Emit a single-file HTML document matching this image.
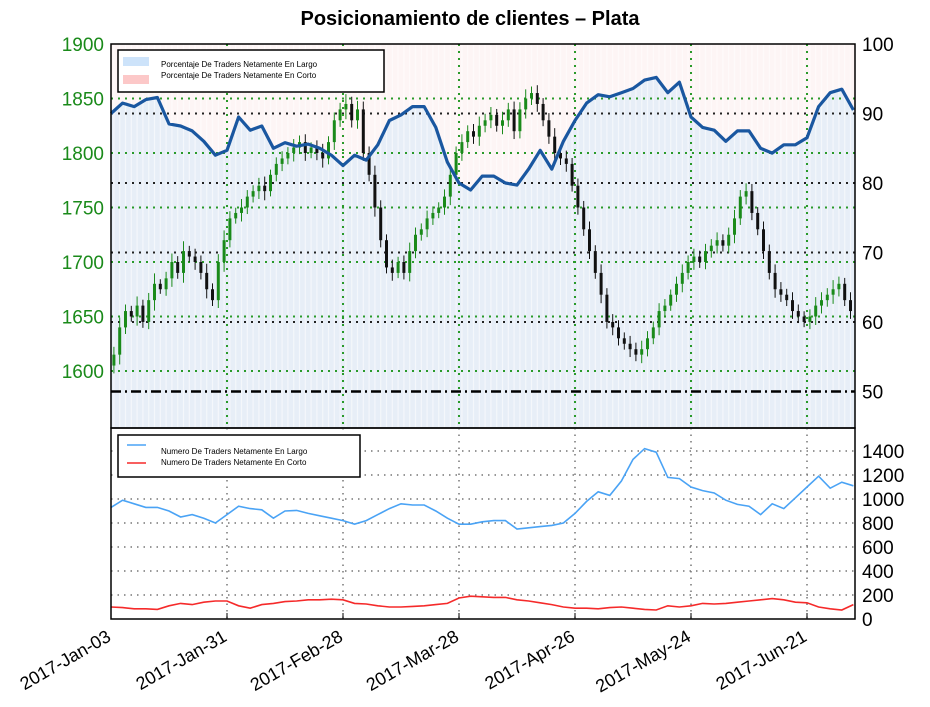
<!DOCTYPE html>
<html><head><meta charset="utf-8">
<style>
html,body{margin:0;padding:0;background:#fff;}
svg{display:block;font-family:"Liberation Sans",sans-serif;}
</style></head>
<body>
<svg id="chart" width="930" height="707" viewBox="0 0 930 707" xmlns="http://www.w3.org/2000/svg">
<text x="470" y="25" text-anchor="middle" font-size="20" font-weight="bold">Posicionamiento de clientes – Plata</text>
<g id="topPanel"></g>
<g id="botPanel"></g>
</svg>
<script>
const closes=[1615,1640,1655,1650,1660,1645,1665,1680,1675,1685,1700,1690,1710,1705,1700,1690,1675,1665,1700,1720,1740,1745,1750,1760,1765,1770,1765,1780,1790,1795,1800,1805,1810,1800,1805,1800,1795,1810,1830,1840,1845,1830,1840,1800,1780,1750,1720,1695,1690,1700,1690,1710,1725,1730,1740,1745,1750,1760,1780,1800,1810,1820,1815,1825,1830,1835,1825,1830,1840,1820,1840,1850,1855,1845,1830,1815,1800,1795,1790,1770,1750,1730,1710,1690,1670,1645,1640,1630,1625,1620,1615,1620,1630,1640,1655,1660,1670,1680,1690,1700,1705,1700,1710,1715,1720,1715,1725,1740,1760,1765,1745,1730,1710,1690,1675,1670,1665,1655,1650,1645,1650,1660,1665,1670,1675,1680,1665,1655];
const wickRange=[12,15,10,8,14,9,11,16,7,10,13,9,15,8,12,10,14,9,12,15,11,8,13,10,9,12,14,8,10,11,9,13,10,12,8,11,14,9,12,10,15,11,13,12,10,14,11,9,12,8,10,13,11,9,12,10,8,11,13,10,12,9,11,14,10,12,9,13,10,12,11,14,10,12,9,11,13,10,12,9,11,10,12,9,13,10,12,11,9,12,10,13,11,9,12,10,8,11,13,10,12,9,11,10,12,9,11,13,10,12,11,9,12,10,13,11,9,12,10,8,11,13,12,10,14,11,9,12];
const sentiment=[90,91.5,91,92,92.3,88.5,88.2,87.5,86,84,84.7,89.5,87.6,88.2,85,85.8,85.3,85.6,85,84,82.5,84,83.3,85.5,89,89.8,91,91,88,83,80,79,81,81,80,79.7,82,84.7,82,86,89,91.5,92.7,92.4,93,93.6,94.8,95.2,93,94.5,89.5,88,87.6,86,87.5,87.5,85,84.3,85.5,85.5,86.5,91,93,93.5,90.5];
const longCount=[930,990,960,930,930,900,850,870,840,800,870,940,920,910,840,900,905,880,860,840,820,790,820,870,920,960,950,950,900,840,790,790,810,820,820,750,760,770,780,800,880,980,1060,1030,1150,1330,1420,1390,1180,1170,1100,1070,1050,990,955,940,870,960,920,1010,1100,1190,1090,1140,1110];
const shortCount=[100,95,85,85,80,110,130,120,140,150,150,110,90,120,130,145,150,160,160,165,160,130,125,110,100,100,105,110,120,130,175,190,185,180,180,160,150,135,120,100,90,90,85,95,100,90,80,75,110,100,110,130,125,130,140,150,160,170,160,140,135,100,85,75,120];
const dateLabels=["2017-Jan-03","2017-Jan-31","2017-Feb-28","2017-Mar-28","2017-Apr-26","2017-May-24","2017-Jun-21"];
const dateIdx=[0,20,40,60,80,100,120];
const leftTicks=[1600,1650,1700,1750,1800,1850,1900];
const rightTicks=[50,60,70,80,90,100];
const countTicks=[0,200,400,600,800,1000,1200,1400];

const NS="http://www.w3.org/2000/svg";
const X0=111,X1=855,T0=44,T1=428,B0=428,B1=619;
const xb=i=>X0+i*5.8;
const yP=v=>44+(1900-v)/50*54.5;
const yS=p=>44+(100-p)*6.95;
const yC=v=>619-v/200*24;
function mk(parent,tag,attrs){const e=document.createElementNS(NS,tag);for(const k in attrs)e.setAttribute(k,attrs[k]);parent.appendChild(e);return e;}
const topG=document.getElementById('topPanel'),botG=document.getElementById('botPanel');

let r=mk(topG,'rect',{x:X0,y:T0,width:X1-X0,height:T1-T0,fill:'#fdf5f5'});


let pts=sentiment.map((p,j)=>[xb(2*j),yS(p)]);
let fillD='M'+X0+','+T1+' '+pts.map(p=>'L'+p[0].toFixed(1)+','+p[1].toFixed(1)).join(' ')+' L'+X1+','+pts[pts.length-1][1].toFixed(1)+' L'+X1+','+T1+'Z';
let fa=mk(topG,'path',{d:fillD,fill:'#e7eef7'});


let sd='';for(let i=0;i<128;i++){const x=xb(i)+2.9;sd+='M'+x.toFixed(1)+','+T0+'V'+T1;}
let st=mk(topG,'path',{d:sd,stroke:'#ffffff','stroke-width':1.2,opacity:0.55});



leftTicks.forEach(v=>{if(v>=1900)return;const y=yP(v);let g=mk(topG,'line',{x1:X0,x2:X1,y1:y,y2:y,stroke:'#2a9a2a','stroke-width':2,'stroke-dasharray':'2 5'});

});
rightTicks.forEach(v=>{if(v>=100||v<=50)return;const y=yS(v);let g=mk(topG,'line',{x1:X0,x2:X1,y1:y,y2:y,stroke:'#222','stroke-width':2,'stroke-dasharray':'2 5'});

});
dateIdx.forEach(i=>{const x=xb(i);if(i===0)return;let g=mk(topG,'line',{x1:x,x2:x,y1:T0,y2:T1,stroke:'#2a9a2a','stroke-width':2,'stroke-dasharray':'2 5'});

});
let fifty=mk(topG,'line',{x1:X0,x2:X1,y1:yS(50),y2:yS(50),stroke:'#000','stroke-width':2.5,'stroke-dasharray':'10 4 2 4'});



closes.forEach((c,i)=>{const o=i?closes[i-1]:c-10;const up=c>=o;const col=up?'#1a8a1a':'#111';const x=xb(i)+2.9;
const hi=Math.max(o,c)+wickRange[i]*0.6,lo=Math.min(o,c)-wickRange[i]*0.6;
let w=mk(topG,'line',{x1:x,x2:x,y1:yP(hi),y2:yP(lo),stroke:col,'stroke-width':1});


let b=mk(topG,'rect',{x:x-1.5,y:yP(Math.max(o,c)),width:3,height:Math.max(1,Math.abs(yP(o)-yP(c))),fill:col});

});

let sl=mk(topG,'polyline',{points:pts.map(p=>p[0].toFixed(1)+','+p[1].toFixed(1)).join(' '),fill:'none',stroke:'#1a57a0','stroke-width':3.2,'stroke-linejoin':'round'});


let tf=mk(topG,'rect',{x:X0,y:T0,width:X1-X0,height:T1-T0,fill:'none',stroke:'#000','stroke-width':1.5});



leftTicks.forEach(v=>{let t=mk(topG,'text',{x:104,y:yP(v)+7,'text-anchor':'end','font-size':19,fill:'#1a8a1a'});t.textContent=v;

});
rightTicks.forEach(v=>{let t=mk(topG,'text',{x:862,y:yS(v)+7,'font-size':19,fill:'#000'});t.textContent=v;

});

let lg=mk(topG,'g',{});


mk(lg,'rect',{x:118,y:50,width:266,height:42,fill:'#fff',stroke:'#000','stroke-width':1.5});
mk(lg,'rect',{x:123,y:57,width:26,height:9,fill:'#cde3fa'});
mk(lg,'rect',{x:123,y:75,width:26,height:9,fill:'#fcc8c8'});
let t1=mk(lg,'text',{x:161,y:67,'font-size':8});t1.textContent='Porcentaje De Traders Netamente En Largo';
let t2=mk(lg,'text',{x:161,y:78,'font-size':8});t2.textContent='Porcentaje De Traders Netamente En Corto';

countTicks.forEach(v=>{if(v===0)return;const y=yC(v);let g=mk(botG,'line',{x1:X0,x2:X1,y1:y,y2:y,stroke:'#777','stroke-width':1.5,'stroke-dasharray':'1.5 5'});

});
dateIdx.forEach(i=>{if(i===0)return;const x=xb(i);let g=mk(botG,'line',{x1:x,x2:x,y1:B0,y2:B1,stroke:'#777','stroke-width':1.5,'stroke-dasharray':'1.5 5'});

});
let lp=mk(botG,'polyline',{points:longCount.map((v,j)=>xb(2*j).toFixed(1)+','+yC(v).toFixed(1)).join(' '),fill:'none',stroke:'#4aa3f5','stroke-width':1.6});


let sp=mk(botG,'polyline',{points:shortCount.map((v,j)=>xb(2*j).toFixed(1)+','+yC(v).toFixed(1)).join(' '),fill:'none',stroke:'#f52a2a','stroke-width':1.6});


let bf=mk(botG,'rect',{x:X0,y:B0,width:X1-X0,height:B1-B0,fill:'none',stroke:'#000','stroke-width':1.5});


countTicks.forEach(v=>{let t=mk(botG,'text',{x:862,y:yC(v)+7,'font-size':19});t.textContent=v;

});
let lg2=mk(botG,'g',{});


mk(lg2,'rect',{x:118,y:435,width:242,height:42,fill:'#fff',stroke:'#000','stroke-width':1.5});
mk(lg2,'line',{x1:127,x2:146,y1:445,y2:445,stroke:'#4aa3f5','stroke-width':1.6});
mk(lg2,'line',{x1:127,x2:146,y1:463,y2:463,stroke:'#f52a2a','stroke-width':1.6});
let t3=mk(lg2,'text',{x:161,y:454,'font-size':8});t3.textContent='Numero De Traders Netamente En Largo';
let t4=mk(lg2,'text',{x:161,y:465,'font-size':8});t4.textContent='Numero De Traders Netamente En Corto';

dateIdx.forEach((i,k)=>{const x=xb(i);let tk=mk(botG,'line',{x1:x,x2:x,y1:B1,y2:B1-6,stroke:'#000'});


let t=mk(botG,'text',{x:x+1,y:640,'text-anchor':'end','font-size':18,transform:'rotate(-30 '+(x+1)+' 640)'});t.textContent=dateLabels[k];

});
</script>
</body></html>
